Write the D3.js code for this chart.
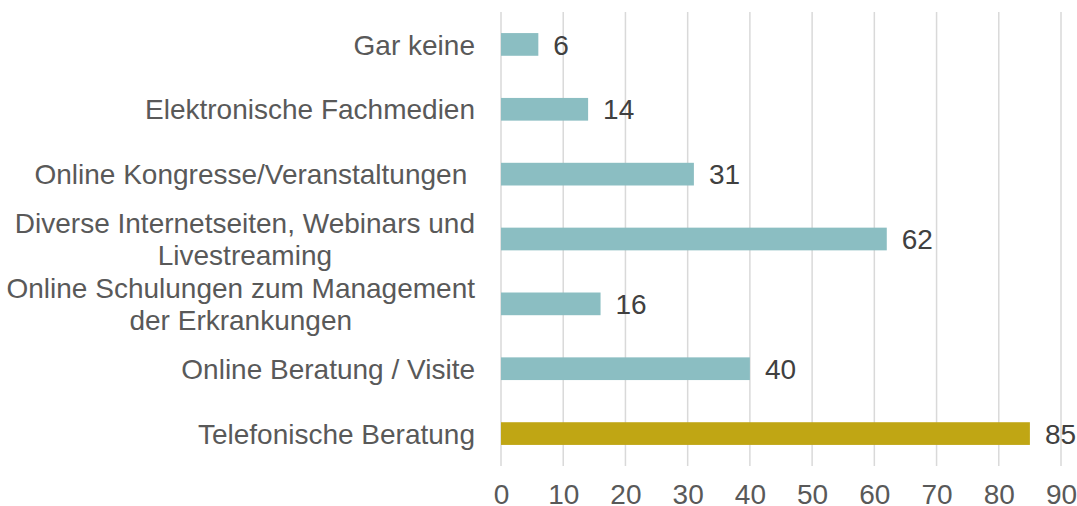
<!DOCTYPE html>
<html>
<head>
<meta charset="utf-8">
<script src="https://cdn.jsdelivr.net/npm/d3@7/dist/d3.min.js"></script>
<style>
  html, body { margin: 0; padding: 0; background: #ffffff; }
  svg { display: block; font-family: "Liberation Sans", Arial, sans-serif; }
</style>
</head>
<body>
<svg id="chart" width="1077" height="506"></svg>
<script>
// ---- data ----
const categories = [
  ["Gar keine"],
  ["Elektronische Fachmedien"],
  ["Online Kongresse/Veranstaltungen\u00A0"],
  ["Diverse Internetseiten, Webinars und", "Livestreaming"],
  ["Online Schulungen zum Management", "der Erkrankungen"],
  ["Online Beratung / Visite"],
  ["Telefonische Beratung"]
];
const values = [6, 14, 31, 62, 16, 40, 85];
const highlight = [false, false, false, false, false, false, true];
const tickValues = [0, 10, 20, 30, 40, 50, 60, 70, 80, 90];

// ---- layout ----
const plotLeft = 501, plotRight = 1061, plotTop = 12, plotBottom = 466;
const colorMain = "#8bbec2", colorHi = "#c0a614";
const fontSize = "28px";

const svg = d3.select("#chart");

const x = d3.scaleLinear().domain([0, 90]).range([plotLeft, plotRight]);
const y = d3.scaleBand().domain(d3.range(categories.length))
  .range([plotTop, plotBottom]).paddingInner(0.65).paddingOuter(0.325);

// gridlines
svg.append("g").selectAll("line").data(tickValues).join("line")
  .attr("x1", d => x(d)).attr("x2", d => x(d))
  .attr("y1", plotTop).attr("y2", plotBottom)
  .attr("stroke", "#d9d9d9").attr("stroke-width", 1.5);

// x axis tick labels
const xAxis = d3.axisBottom(x).tickValues(tickValues).tickSize(0).tickPadding(0);
const gx = svg.append("g").attr("transform", `translate(0,${plotBottom})`).call(xAxis);
gx.select(".domain").remove();
gx.selectAll("text")
  .attr("y", 38)
  .attr("dy", null)
  .attr("fill", "#595959")
  .style("font-size", fontSize)
  .style("font-family", "Liberation Sans, Arial, sans-serif");

// bars
svg.append("g").selectAll("rect").data(values).join("rect")
  .attr("x", x(0))
  .attr("y", (d, i) => y(i))
  .attr("width", d => x(d) - x(0))
  .attr("height", y.bandwidth())
  .attr("fill", (d, i) => highlight[i] ? colorHi : colorMain);

// value labels
svg.append("g").selectAll("text").data(values).join("text")
  .attr("x", d => x(d) + 15)
  .attr("y", (d, i) => y(i) + y.bandwidth() / 2)
  .attr("dy", "0.36em")
  .attr("fill", "#404040")
  .style("font-size", fontSize)
  .text(d => d);

// category labels
const labelRight = 475;
const lineH = 32;
const gl = svg.append("g");
categories.forEach((lines, i) => {
  const cy = y(i) + y.bandwidth() / 2;
  const t = gl.append("text")
    .attr("fill", "#595959")
    .style("font-size", fontSize);
  const n = lines.length;
  lines.forEach((ln, k) => {
    t.append("tspan")
      .attr("y", cy + (k - (n - 1) / 2) * lineH)
      .attr("dy", "0.36em")
      .text(ln);
  });
  if (n === 1) {
    t.attr("text-anchor", "end");
    t.selectAll("tspan").attr("x", labelRight);
  } else {
    let maxW = 0;
    t.selectAll("tspan").each(function () { maxW = Math.max(maxW, this.getComputedTextLength()); });
    t.attr("text-anchor", "middle");
    t.selectAll("tspan").attr("x", labelRight - maxW / 2);
  }
});
</script>
</body>
</html>
